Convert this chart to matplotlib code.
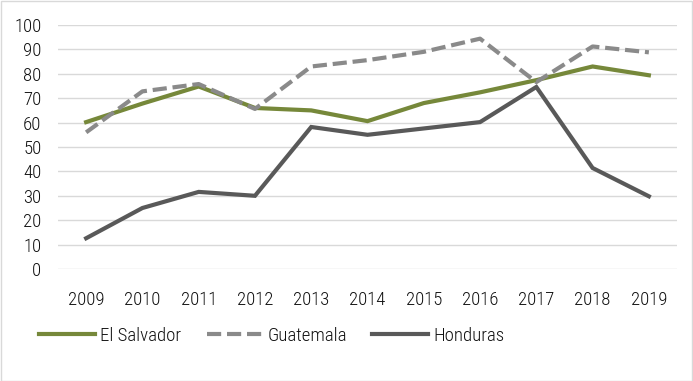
import matplotlib
matplotlib.use("Agg")
import matplotlib.pyplot as plt
from matplotlib.patches import Rectangle

plt.rcParams["font.family"] = ["Roboto Condensed", "Archivo Narrow", "DejaVu Sans"]
plt.rcParams["font.weight"] = "light"

years = ["2009", "2010", "2011", "2012", "2013", "2014", "2015", "2016", "2017", "2018", "2019"]
el_salvador = [60.2, 67.8, 74.8, 66.0, 65.0, 60.6, 68.0, 72.4, 77.4, 83.0, 79.4]
guatemala = [56.0, 72.8, 75.8, 65.6, 83.0, 85.6, 89.0, 94.4, 76.6, 91.2, 88.8]
honduras = [12.6, 25.0, 31.6, 30.0, 58.2, 55.0, 57.6, 60.2, 74.6, 41.4, 29.8]

series = [
    ("El Salvador", el_salvador, "#76883a", "-"),
    ("Guatemala", guatemala, "#8a8a8a", "--"),
    ("Honduras", honduras, "#595959", "-"),
]

fig = plt.figure(figsize=(6.93, 3.81), dpi=100)
ax = fig.add_axes([58 / 693, 1 - 269 / 381, 619 / 693, 244 / 381])

x = list(range(len(years)))
for name, vals, color, ls in series:
    (line,) = ax.plot(x, vals, color=color, linewidth=3, linestyle=ls, label=name,
                      solid_joinstyle="miter")
    if ls == "--":
        line.set_dashes((3.4, 1.4))

ax.set_xlim(-0.5, len(years) - 0.5)
ax.set_ylim(0, 100)
ax.set_yticks(range(0, 101, 10))
ax.set_xticks(x)
ax.set_xticklabels(years)
ax.tick_params(axis="both", length=0, labelsize=13.5, colors="#111111")
ax.tick_params(axis="x", pad=16)
ax.tick_params(axis="y", pad=12)
ax.grid(True, axis="y", color="#d9d9d9", linewidth=1)
ax.set_axisbelow(True)
for s in ax.spines.values():
    s.set_visible(False)

fig.legend(
    loc="center",
    bbox_to_anchor=(272 / 693, 1 - 336 / 381),
    ncol=3,
    frameon=False,
    fontsize=13.5,
    handlelength=2.95,
    handletextpad=0.3,
    columnspacing=1.35,
    labelcolor="#111111",
)

fig.patches.append(Rectangle((0.5 / 693, 0.5 / 381), 1 - 1.5 / 693, 1 - 1.5 / 381,
                             transform=fig.transFigure, fill=False,
                             edgecolor="#d9d9d9", linewidth=1))

fig.savefig("out.png", dpi=100)
